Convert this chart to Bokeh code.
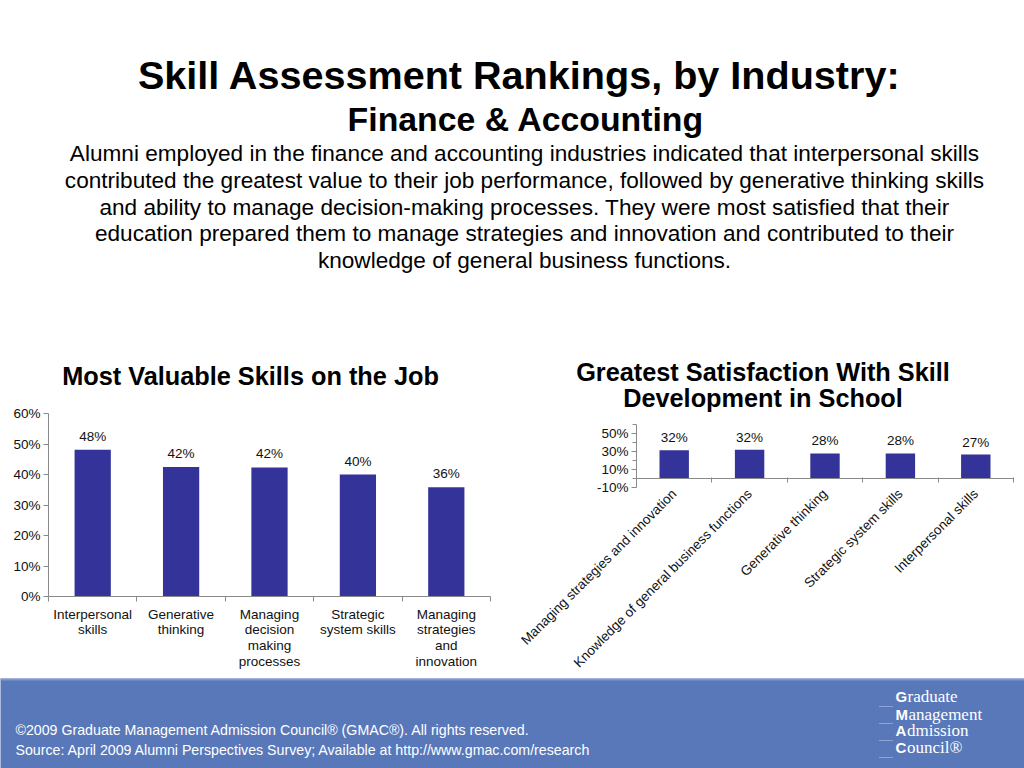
import math
from bokeh.plotting import figure
from bokeh.models import Range1d, FixedTicker, PrintfTickFormatter, Span
from bokeh.layouts import column, row
from bokeh.embed import file_html
from bokeh.resources import INLINE
from bokeh.core.properties import value

FONT = "Liberation Sans"
SERIF = "Liberation Serif"
BAR = "#333399"
AXIS = "#8a8a8a"
FOOT = "#5878ba"
TXT = "#111111"

# ---------------- data ----------------
title_main = "Skill Assessment Rankings, by Industry:"
title_sub = "Finance & Accounting"
paragraph = [
    "Alumni employed in the finance and accounting industries indicated that interpersonal skills",
    "contributed the greatest value to their job performance, followed by generative thinking skills",
    "and ability to manage decision-making processes. They were most satisfied that their",
    "education prepared them to manage strategies and innovation and contributed to their",
    "knowledge of general business functions.",
]

left_title = "Most Valuable Skills on the Job"
left_categories = [
    "Interpersonal\nskills",
    "Generative\nthinking",
    "Managing\ndecision\nmaking\nprocesses",
    "Strategic\nsystem skills",
    "Managing\nstrategies\nand\ninnovation",
]
left_values = [48.1, 42.5, 42.3, 40.0, 35.8]
left_labels = ["48%", "42%", "42%", "40%", "36%"]
left_yticks = [0, 10, 20, 30, 40, 50, 60]

right_title = ["Greatest Satisfaction With Skill", "Development in School"]
right_categories = [
    "Managing strategies and innovation",
    "Knowledge of general business functions",
    "Generative thinking",
    "Strategic system skills",
    "Interpersonal skills",
]
right_values = [31.4, 32.0, 27.8, 27.8, 26.6]
right_labels = ["32%", "32%", "28%", "28%", "27%"]
right_yticks = [-10, 10, 30, 50]
right_yminor = [0, 20, 40, 60]

footer_lines = [
    "\u00a92009 Graduate Management Admission Council\u00ae (GMAC\u00ae). All rights reserved.",
    "Source: April 2009 Alumni Perspectives Survey; Available at http://www.gmac.com/research",
]
logo_words = ["Graduate", "Management", "Admission", "Council\u00ae"]


def blank(width, height, x0, x1, y0, y1, bg="white"):
    p = figure(width=width, height=height, x_range=Range1d(x0, x1), y_range=Range1d(y1, y0),
               output_backend="svg", toolbar_location=None,
               x_axis_location=None, y_axis_location=None,
               min_border=0, min_border_left=0, min_border_right=0,
               min_border_top=0, min_border_bottom=0)
    p.grid.visible = False
    p.outline_line_color = None
    p.background_fill_color = bg
    p.border_fill_color = bg
    p.frame_align = False
    return p


# ---------------- top text block (page y 0..350) ----------------
top = blank(1024, 350, 0, 1024, 0, 350)
top.text(x=[519], y=[74], text=[title_main], text_align="center", text_baseline="alphabetic",
         text_font=value(FONT), text_font_style="bold", text_font_size="39.6px", text_color="black")
top.text(x=[525.5], y=[118], text=[title_sub], text_align="center", text_baseline="alphabetic",
         text_font=value(FONT), text_font_style="bold", text_font_size="33.8px", text_color="black")
top.text(x=[524] * len(paragraph), y=[153 + i * 26.75 for i in range(len(paragraph))], text=paragraph,
         text_align="center", text_baseline="alphabetic",
         text_font=value(FONT), text_font_size="22.6px", text_color="black")


def style_axes(p):
    for ax in (p.xaxis[0], p.yaxis[0]):
        ax.axis_line_color = AXIS
        ax.major_tick_line_color = AXIS
        ax.minor_tick_line_color = AXIS
        ax.major_label_text_font = FONT
        ax.major_label_text_font_size = "13.5px"
        ax.major_label_text_color = TXT
    p.grid.visible = False
    p.outline_line_color = None
    p.frame_align = False


# ---------------- left column (page x 0..500) ----------------
ltitle = blank(500, 54, 0, 500, 350, 404)
ltitle.text(x=[250], y=[375], text=[left_title], text_align="center", text_baseline="alphabetic",
            text_font=value(FONT), text_font_style="bold", text_font_size="25.3px", text_color="black")

n = len(left_categories)
lx = list(range(1, n + 1))
lp = figure(width=500, height=274, x_range=Range1d(0.5, n + 0.5), y_range=Range1d(0, 60),
            output_backend="svg", toolbar_location=None,
            min_border_left=48, min_border_right=10, min_border_top=9, min_border_bottom=82)
style_axes(lp)
lp.vbar(x=lx, top=left_values, width=0.41, fill_color=BAR, line_color=None)
lp.text(x=lx, y=left_values, text=left_labels, y_offset=-6, text_align="center", text_baseline="bottom",
        text_font=value(FONT), text_font_size="13.5px", text_color=TXT)
lp.xaxis.ticker = FixedTicker(ticks=lx, minor_ticks=[i + 0.5 for i in range(0, n + 1)])
lp.xaxis.major_label_overrides = {i: c for i, c in zip(lx, left_categories)}
lp.xaxis.major_label_text_line_height = 1.06
lp.xaxis.major_tick_out = 0
lp.xaxis.major_tick_in = 0
lp.xaxis.minor_tick_out = 5
lp.xaxis.minor_tick_in = 0
lp.xaxis.major_label_standoff = 5
lp.yaxis.ticker = FixedTicker(ticks=left_yticks)
lp.yaxis.formatter = PrintfTickFormatter(format="%d%%")
lp.yaxis.major_tick_out = 5
lp.yaxis.major_tick_in = 0
lp.yaxis.minor_tick_out = 0
lp.yaxis.minor_tick_in = 0
lp.yaxis.major_label_standoff = 3

# ---------------- right column (page x 500..1024) ----------------
rtitle = blank(524, 64, 500, 1024, 350, 414)
rtitle.text(x=[762.5] * len(right_title), y=[371 + 26 * k for k in range(len(right_title))], text=right_title,
            text_align="center", text_baseline="alphabetic",
            text_font=value(FONT), text_font_style="bold", text_font_size="25.3px", text_color="black")

m = len(right_categories)
rx = list(range(1, m + 1))
rp = figure(width=524, height=264, x_range=Range1d(0.5, m + 0.5), y_range=Range1d(-10, 60),
            output_backend="svg", toolbar_location=None,
            min_border_left=136, min_border_right=11, min_border_top=10, min_border_bottom=185)
style_axes(rp)
rp.add_layout(Span(location=0, dimension="width", line_color=AXIS, line_width=1))
rp.vbar(x=rx, top=right_values, width=0.39, fill_color=BAR, line_color=None)
rp.text(x=rx, y=right_values, text=right_labels, y_offset=-5, text_align="center", text_baseline="bottom",
        text_font=value(FONT), text_font_size="13.5px", text_color=TXT)
rp.xaxis.ticker = FixedTicker(ticks=rx, minor_ticks=[i + 0.5 for i in range(0, m + 1)])
rp.xaxis.major_label_overrides = {i: c for i, c in zip(rx, right_categories)}
rp.xaxis.major_label_orientation = math.pi / 4
rp.xaxis.axis_line_color = None
rp.xaxis.major_tick_out = 0
rp.xaxis.major_tick_in = 0
rp.xaxis.minor_tick_in = 10
rp.xaxis.minor_tick_out = -5
rp.xaxis.major_label_standoff = 4
rp.yaxis.ticker = FixedTicker(ticks=right_yticks, minor_ticks=right_yminor)
rp.yaxis.formatter = PrintfTickFormatter(format="%d%%")
rp.yaxis.major_tick_out = 5
rp.yaxis.major_tick_in = 0
rp.yaxis.minor_tick_out = 4
rp.yaxis.minor_tick_in = 0
rp.yaxis.major_label_standoff = 3

# ---------------- footer (page y 678..768) ----------------
foot = blank(1024, 90, 0, 1024, 678, 768, bg=FOOT)
foot.segment(x0=[0], y0=[679], x1=[1024], y1=[679], line_color="#7d98d3", line_width=2)
foot.text(x=[15, 15], y=[729, 749], text=footer_lines, text_align="left", text_baseline="alphabetic",
          text_font=value(FONT), text_font_size="14.2px", text_color="white")
logo_y = [696, 714, 730, 747]
dot_y = [706, 723, 740, 757]
first_w = [12, 13, 11.5, 11.5]
foot.text(x=[895] * len(logo_words), y=logo_y, text=[w[0] for w in logo_words], text_align="left",
          text_baseline="alphabetic", text_font=value(FONT), text_font_style="bold",
          text_font_size="15px", text_color="white")
foot.text(x=[895 + w for w in first_w], y=logo_y, text=[w[1:] for w in logo_words], text_align="left",
          text_baseline="alphabetic", text_font=value(SERIF), text_font_size="17px", text_color="white")
foot.segment(x0=[879] * 4, y0=dot_y, x1=[893] * 4, y1=dot_y,
             line_color="#c3cfea", line_width=1, line_dash="1 1")

layout = column(top, row(column(ltitle, lp), column(rtitle, rp)), foot)
open("out.html", "w").write(file_html(layout, INLINE, "Skill Assessment Rankings"))
